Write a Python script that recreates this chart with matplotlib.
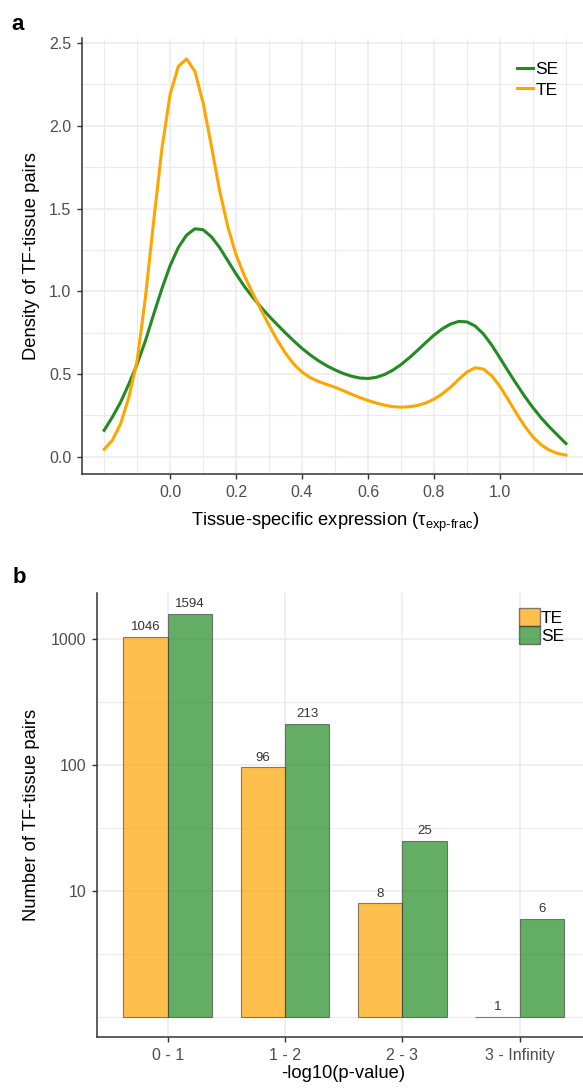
import numpy as np
import matplotlib.pyplot as plt
from matplotlib.patches import Patch
from matplotlib.ticker import FixedLocator, NullFormatter

plt.rcParams['font.family'] = ['Liberation Sans', 'DejaVu Sans']
plt.rcParams['mathtext.fontset'] = 'custom'
plt.rcParams['mathtext.rm'] = 'Liberation Sans'
plt.rcParams['mathtext.it'] = 'Liberation Sans:italic'

# panel a - densidad (cada 0.025)
tau = [-0.200, -0.175, -0.150, -0.125, -0.100, -0.075, -0.050, -0.025,
       0.000, 0.025, 0.050, 0.075, 0.100, 0.125, 0.150, 0.175,
       0.200, 0.225, 0.250, 0.275, 0.300, 0.325, 0.350, 0.375,
       0.400, 0.425, 0.450, 0.475, 0.500, 0.525, 0.550, 0.575,
       0.600, 0.625, 0.650, 0.675, 0.700, 0.725, 0.750, 0.775,
       0.800, 0.825, 0.850, 0.875, 0.900, 0.925, 0.950, 0.975,
       1.000, 1.025, 1.050, 1.075, 1.100, 1.125, 1.150, 1.175, 1.200]
se_dens = [0.160, 0.240, 0.330, 0.440, 0.560, 0.700, 0.860, 1.015,
           1.155, 1.265, 1.340, 1.378, 1.372, 1.330, 1.265, 1.185,
           1.105, 1.030, 0.965, 0.905, 0.850, 0.798, 0.748, 0.700,
           0.655, 0.615, 0.580, 0.550, 0.525, 0.503, 0.487, 0.476,
           0.473, 0.480, 0.497, 0.523, 0.557, 0.598, 0.643, 0.690,
           0.735, 0.773, 0.802, 0.818, 0.815, 0.790, 0.742, 0.675,
           0.597, 0.517, 0.440, 0.365, 0.297, 0.235, 0.180, 0.130, 0.080]
te_dens = [0.045, 0.100, 0.200, 0.360, 0.580, 0.960, 1.420, 1.860,
           2.190, 2.360, 2.405, 2.330, 2.140, 1.880, 1.610, 1.390,
           1.220, 1.095, 0.990, 0.890, 0.795, 0.705, 0.625, 0.560,
           0.512, 0.478, 0.455, 0.437, 0.420, 0.400, 0.378, 0.358,
           0.340, 0.325, 0.312, 0.303, 0.300, 0.302, 0.310, 0.325,
           0.348, 0.380, 0.420, 0.468, 0.512, 0.538, 0.530, 0.490,
           0.425, 0.345, 0.262, 0.185, 0.120, 0.072, 0.040, 0.020, 0.010]

# panel b - barras
categorias = ['0 - 1', '1 - 2', '2 - 3', '3 - Infinity']
te_counts = [1046, 96, 8, 1]
se_counts = [1594, 213, 25, 6]

verde = '#228B22'
naranja = '#FFA500'
gris_txt = '#4D4D4D'
gris_grid = '#EBEBEB'

W, H = 583, 1090
fig = plt.figure(figsize=(W / 100, H / 100), dpi=100)


def estilo(ax):
    for s in ['top', 'right']:
        ax.spines[s].set_visible(False)
    for s in ['left', 'bottom']:
        ax.spines[s].set_color('#333333')
        ax.spines[s].set_linewidth(1.1)
    ax.tick_params(which='major', length=3.6, width=1.0, color='#333333',
                   labelcolor=gris_txt, labelsize=11.5, pad=4)
    ax.tick_params(which='minor', length=0)
    ax.set_axisbelow(True)


# ---------------- a ----------------
ax1 = fig.add_axes([81.7 / W, (H - 474.3) / H, (589 - 81.7) / W, (474.3 - 38.5) / H])
estilo(ax1)
ax1.plot(tau, se_dens, color=verde, lw=2.2, label='SE', solid_joinstyle='round')
ax1.plot(tau, te_dens, color=naranja, lw=2.2, label='TE', solid_joinstyle='round')
ax1.set_xlim(-0.268, 1.27)
ax1.set_ylim(-0.106, 2.528)
ax1.set_xticks([0.0, 0.2, 0.4, 0.6, 0.8, 1.0])
ax1.set_xticklabels(['0.0', '0.2', '0.4', '0.6', '0.8', '1.0'])
ax1.xaxis.set_minor_locator(FixedLocator([-0.2, -0.1, 0.1, 0.3, 0.5, 0.7, 0.9, 1.1, 1.2]))
ax1.set_yticks([0.0, 0.5, 1.0, 1.5, 2.0, 2.5])
ax1.set_yticklabels(['0.0', '0.5', '1.0', '1.5', '2.0', '2.5'])
ax1.yaxis.set_minor_locator(FixedLocator([0.25, 0.75, 1.25, 1.75, 2.25]))
ax1.grid(which='major', color=gris_grid, lw=1.1)
ax1.grid(which='minor', color=gris_grid, lw=0.8)
ax1.set_xlabel('Tissue-specific expression (\u03c4$_{\\mathrm{exp\\text{-}frac}}$)', fontsize=13.2)
ax1.set_ylabel('Density of TF-tissue pairs', fontsize=13.2)
ax1.xaxis.set_label_coords(0.5, -0.083)
ax1.yaxis.set_label_coords(-0.082, 0.5)
ax1.legend(loc='upper left', bbox_to_anchor=(517 / W, 1 - 62 / H),
           bbox_transform=fig.transFigure, frameon=False, fontsize=12.5,
           handlelength=0.9, handletextpad=0.15, labelspacing=0.3,
           borderpad=0, borderaxespad=0)
fig.text(11 / W, 1 - 30 / H, 'a', fontsize=16, fontweight='bold', va='baseline')

# ---------------- b ----------------
ax2 = fig.add_axes([97.3 / W, (H - 1037) / H, (590 - 97.3) / W, (1037 - 593) / H])
estilo(ax2)
x = np.arange(len(categorias))
ancho = 0.378
col_te = (1.0, 0.647, 0.0, 0.7)
col_se = (0.133, 0.545, 0.133, 0.7)
borde = (0.2, 0.2, 0.2, 0.6)
ax2.set_yscale('log')
ax2.bar(x - ancho / 2, np.array(te_counts) - 1, bottom=1, width=ancho,
        color=col_te, edgecolor=borde, linewidth=0.8, label='TE')
ax2.bar(x + ancho / 2, np.array(se_counts) - 1, bottom=1, width=ancho,
        color=col_se, edgecolor=borde, linewidth=0.8, label='SE')
for xi, v in zip(x - ancho / 2, te_counts):
    ax2.annotate(str(v), (xi, v), xytext=(0, 2.5), textcoords='offset points',
                 ha='center', va='bottom', fontsize=9.5, color='#333333')
for xi, v in zip(x + ancho / 2, se_counts):
    ax2.annotate(str(v), (xi, v), xytext=(0, 2.5), textcoords='offset points',
                 ha='center', va='bottom', fontsize=9.5, color='#333333')
ax2.set_xlim(-0.6, 3.6)
ax2.set_ylim(10 ** -0.16, 10 ** 3.368)
ax2.set_xticks(x)
ax2.set_xticklabels(categorias)
ax2.yaxis.set_major_locator(FixedLocator([10, 100, 1000]))
ax2.set_yticklabels(['10', '100', '1000'])
ax2.yaxis.set_minor_locator(FixedLocator([1, 10 ** 0.5, 10 ** 1.5, 10 ** 2.5]))
ax2.yaxis.set_minor_formatter(NullFormatter())
ax2.grid(which='major', color=gris_grid, lw=1.1)
ax2.grid(which='minor', axis='y', color=gris_grid, lw=0.8)
ax2.set_xlabel('-log10(p-value)', fontsize=13.2)
ax2.set_ylabel('Number of TF-tissue pairs', fontsize=13.2)
ax2.xaxis.set_label_coords(0.5, -0.062)
ax2.yaxis.set_label_coords(-0.117, 0.5)
ax2.legend(handles=[Patch(facecolor=col_te, edgecolor=borde, label='TE'),
                    Patch(facecolor=col_se, edgecolor=borde, label='SE')],
           loc='upper left', bbox_to_anchor=(519 / W, 1 - 608 / H),
           bbox_transform=fig.transFigure, frameon=False, fontsize=12.5,
           handlelength=1.2, handleheight=1.2, handletextpad=0.05,
           labelspacing=0.0, borderpad=0, borderaxespad=0)
fig.text(13 / W, 1 - 583 / H, 'b', fontsize=16, fontweight='bold', va='baseline')

fig.savefig('out.png', dpi=100)
